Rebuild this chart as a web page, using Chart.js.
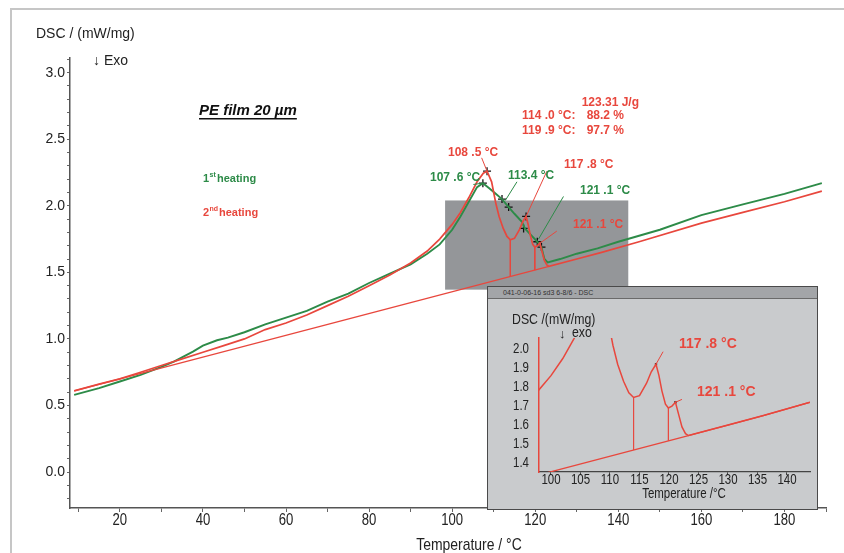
<!DOCTYPE html>
<html>
<head>
<meta charset="utf-8">
<script src="https://cdn.jsdelivr.net/npm/chart.js@4.4.1/dist/chart.umd.min.js"></script>
<style>
  html, body { margin: 0; padding: 0; background: #fff; }
  #wrap { position: relative; width: 844px; height: 553px; overflow: hidden; }
  #main { position: absolute; left: 0; top: 0; }
  #panel { position: absolute; left: 487px; top: 286px; width: 331px; height: 224px; background: #c9cbcd; border: 1px solid #4a4a4a; box-sizing: border-box; }
  #panelBar { height: 11px; background: #a3a5a8; border-bottom: 1px solid #6a6a6a; font: 7px "Liberation Sans", Arial, sans-serif; color: #333; line-height: 11px; padding-left: 15px; }
  #inset { position: absolute; left: 0; top: 12px; }
</style>
</head>
<body>
<div id="wrap">
  <canvas id="main" width="844" height="553"></canvas>
  <div id="panel">
    <div id="panelBar">041-0-06-16 sd3 6-8/6 - DSC</div>
    <canvas id="inset" width="329" height="210"></canvas>
  </div>
</div>
<script>
const RED = '#e8473d';
const GREEN = '#2d8b48';

// 1st heating (green), temperature in °C and DSC in mW/mg
const heat1T = [9, 15, 20, 25, 30, 33, 37.6, 40, 43.4, 46, 50, 55, 60, 65, 70, 75, 80, 85, 90, 94, 97, 100, 102, 104, 106, 107.4, 109, 110.5, 112, 113.6, 115, 116.8, 117.5, 119, 120.5, 121.5, 122.2, 123, 126, 130, 135, 140, 150, 160, 170, 180, 189];
const heat1V = [0.58, 0.63, 0.68, 0.73, 0.79, 0.83, 0.905, 0.95, 0.99, 1.01, 1.05, 1.11, 1.16, 1.21, 1.28, 1.34, 1.42, 1.49, 1.56, 1.64, 1.71, 1.82, 1.92, 2.03, 2.14, 2.17, 2.13, 2.09, 2.05, 1.99, 1.94, 1.88, 1.83, 1.78, 1.73, 1.69, 1.60, 1.575, 1.60, 1.64, 1.68, 1.73, 1.82, 1.93, 2.01, 2.09, 2.17];

// 2nd heating (red)
const heat2T = [9, 15, 20, 25, 30, 35, 40, 45, 50, 55, 60, 65, 70, 75, 80, 85, 90, 94, 97, 100, 102, 104, 106, 107.5, 108.4, 109.5, 110.5, 111.3, 112.3, 113.2, 114, 115, 116.2, 117, 117.8, 118.3, 118.8, 119.4, 119.9, 120.5, 121.1, 121.6, 122.2, 122.8, 123.3, 130, 136, 145, 160, 170, 180, 189];
const heat2V = [0.61, 0.66, 0.70, 0.75, 0.80, 0.85, 0.90, 0.95, 1.00, 1.07, 1.12, 1.18, 1.25, 1.32, 1.40, 1.48, 1.57, 1.66, 1.75, 1.86, 1.95, 2.06, 2.18, 2.245, 2.26, 2.18, 2.02, 1.92, 1.83, 1.77, 1.745, 1.755, 1.82, 1.88, 1.92, 1.86, 1.78, 1.71, 1.69, 1.70, 1.72, 1.66, 1.59, 1.555, 1.545, 1.60, 1.65, 1.73, 1.87, 1.95, 2.03, 2.11];

// integration baseline under the 2nd heating peak
const baseT = [9, 123.3];
const baseV = [0.61, 1.545];

// partial area limits (114.0 °C: 88.2 %, 119.9 °C: 97.7 %)
const splitT = [114.0, 119.9];
const splitTop = [1.745, 1.69];
const splitBot = [1.469, 1.517];

// evaluated points (+)
const mark1T = [107.4, 112.0, 113.6, 117.2, 120.5, 121.5];
const mark1V = [2.17, 2.05, 1.99, 1.83, 1.73, 1.69];
const mark2T = [108.4, 117.8];
const mark2V = [2.26, 1.92];
const insetMarkT = [117.8, 121.1];
const insetMarkV = [1.92, 1.72];

// zoom window shown in the inset
const zoomT = [98.3, 142.4];
const zoomV = [1.37, 2.04];

// leader lines from the labels to the evaluated points
const leadFromT = [107.1, 105.1, 115.6, 122.8, 126.8, 125.2];
const leadFromV = [2.36, 2.16, 2.18, 2.26, 2.07, 1.81];
const leadToT = [108.4, 107.4, 112.8, 117.8, 120.8, 121.2];
const leadToV = [2.26, 2.17, 2.04, 1.92, 1.75, 1.72];
const leadColor = [RED, GREEN, GREEN, RED, GREEN, RED];
const insetLeadFromT = [117.8, 121.1];
const insetLeadFromV = [1.92, 1.72];
const insetLeadToT = [119.0, 122.2];
const insetLeadToV = [1.986, 1.735];

// tick labels
const mainXLabels = [20, 40, 60, 80, 100, 120, 140, 160, 180];
const insetXLabels = [100, 105, 110, 115, 120, 125, 130, 135, 140];
const insetYLabels = [1.4, 1.5, 1.6, 1.7, 1.8, 1.9, 2.0];

const SANS = '"Liberation Sans", Arial, sans-serif';
Chart.defaults.font.family = SANS;

const pts = (xs, ys) => xs.map((x, i) => ({ x: x, y: ys[i] }));
const lineSet = (xs, ys, color, width) => ({
    data: pts(xs, ys), borderColor: color, borderWidth: width,
    pointRadius: 0, tension: 0, fill: false
});
const crossSet = (xs, ys) => ({
    data: pts(xs, ys), showLine: false, pointStyle: 'cross',
    pointRadius: 4, borderColor: '#111', borderWidth: 1.3
});

function put(ctx, s, x, y, font, color, align) {
    ctx.font = font;
    ctx.fillStyle = color;
    ctx.textAlign = align || 'left';
    ctx.textBaseline = 'middle';
    ctx.fillText(s, x, y);
    return ctx.measureText(s).width;
}

// condensed text, the original figure uses a narrow face
function putNarrow(ctx, s, x, y, size, color, align) {
    ctx.save();
    ctx.translate(x, y);
    ctx.scale(0.82, 1);
    put(ctx, s, 0, 0, size + 'px ' + SANS, color, align);
    ctx.restore();
}

function drawLeaders(chart, fT, fV, tT, tV, colors) {
    const { ctx, scales: { x, y } } = chart;
    ctx.save();
    ctx.lineWidth = 1;
    fT.forEach((t, i) => {
        ctx.strokeStyle = colors[i];
        ctx.beginPath();
        ctx.moveTo(x.getPixelForValue(t), y.getPixelForValue(fV[i]));
        ctx.lineTo(x.getPixelForValue(tT[i]), y.getPixelForValue(tV[i]));
        ctx.stroke();
    });
    ctx.restore();
}

const mainDecor = {
    id: 'mainDecor',
    beforeDraw(chart) {
        const ctx = chart.ctx;
        ctx.save();
        ctx.fillStyle = '#fff';
        ctx.fillRect(0, 0, chart.width, chart.height);
        ctx.strokeStyle = '#c6c6c6';
        ctx.lineWidth = 2;
        ctx.strokeRect(11, 9, 900, 700);
        ctx.restore();
    },
    beforeDatasetsDraw(chart) {
        const { ctx, scales: { x, y } } = chart;
        const l = x.getPixelForValue(zoomT[0]), r = x.getPixelForValue(zoomT[1]);
        const t = y.getPixelForValue(zoomV[1]), b = y.getPixelForValue(zoomV[0]);
        ctx.save();
        ctx.fillStyle = '#949699';
        ctx.fillRect(l, t, r - l, b - t);
        ctx.restore();
    },
    afterDatasetsDraw(chart) {
        drawLeaders(chart, leadFromT, leadFromV, leadToT, leadToV, leadColor);
    },
    afterDraw(chart) {
        const ctx = chart.ctx;
        const x = chart.scales.x;
        ctx.save();
        mainXLabels.forEach((v) => putNarrow(ctx, String(v), x.getPixelForValue(v), 521, 16, '#222', 'center'));
        putNarrow(ctx, 'Temperature / \u00b0C', 469, 545, 17, '#222', 'center');
        put(ctx, 'DSC / (mW/mg)', 36, 34, '14px ' + SANS, '#222');
        put(ctx, '\u2193 Exo', 93, 61, '14px ' + SANS, '#222');
        const w = put(ctx, 'PE film 20 \u00b5m', 199, 111, 'italic bold 15px ' + SANS, '#111');
        ctx.fillStyle = '#111';
        ctx.fillRect(199, 118, w, 1.5);

        const b11 = 'bold 11px ' + SANS, b7 = 'bold 7px ' + SANS;
        put(ctx, '1', 203, 179, b11, GREEN);
        put(ctx, 'st', 209.5, 175, b7, GREEN);
        put(ctx, 'heating', 217, 179, b11, GREEN);
        put(ctx, '2', 203, 213, b11, RED);
        put(ctx, 'nd', 209.5, 209, b7, RED);
        put(ctx, 'heating', 219, 213, b11, RED);

        const b12 = 'bold 12px ' + SANS;
        put(ctx, '123.31 J/g', 639, 103, b12, RED, 'right');
        put(ctx, '114 .0 \u00b0C:', 522, 116, b12, RED);
        put(ctx, '88.2 %', 624, 116, b12, RED, 'right');
        put(ctx, '119 .9 \u00b0C:', 522, 131, b12, RED);
        put(ctx, '97.7 %', 624, 131, b12, RED, 'right');
        put(ctx, '108 .5 \u00b0C', 448, 153, b12, RED);
        put(ctx, '107 .6 \u00b0C', 430, 178, b12, GREEN);
        put(ctx, '113.4 \u00b0C', 508, 176, b12, GREEN);
        put(ctx, '117 .8 \u00b0C', 564, 165, b12, RED);
        put(ctx, '121 .1 \u00b0C', 580, 191, b12, GREEN);
        put(ctx, '121 .1 \u00b0C', 573, 225, b12, RED);
        ctx.restore();
    }
};

new Chart(document.getElementById('main'), {
    type: 'line',
    data: {
        datasets: [
            lineSet(baseT, baseV, RED, 1.3),
            lineSet(heat2T, heat2V, RED, 1.7),
            lineSet(heat1T, heat1V, GREEN, 1.9),
            ...splitT.map((t, i) => lineSet([t, t], [splitTop[i], splitBot[i]], RED, 1)),
            crossSet(mark1T, mark1V),
            crossSet(mark2T, mark2V)
        ]
    },
    options: {
        responsive: false,
        animation: false,
        layout: { padding: { top: 58, right: 18, left: 0, bottom: 0 } },
        plugins: { legend: { display: false }, tooltip: { enabled: false } },
        scales: {
            x: {
                type: 'linear', min: 8, max: 190,
                afterBuildTicks: (s) => { s.ticks = []; for (let v = 10; v <= 190; v += 10) s.ticks.push({ value: v }); },
                afterFit: (s) => { s.height = 45; },
                ticks: { autoSkip: false, maxRotation: 0, callback: () => '' },
                grid: { drawOnChartArea: false, drawTicks: true, tickLength: 4, color: '#666' },
                border: { color: '#555', width: 1.5 }
            },
            y: {
                min: -0.27, max: 3.11,
                afterBuildTicks: (s) => { s.ticks = []; for (let k = -2; k <= 31; k++) s.ticks.push({ value: k / 10 }); },
                afterFit: (s) => { s.width = 70; },
                ticks: {
                    autoSkip: false, padding: 2, color: '#222',
                    font: { family: SANS, size: 14 },
                    callback: (v) => { const k = Math.round(v * 10); return k % 5 === 0 ? (k / 10).toFixed(1) : ''; }
                },
                grid: { drawOnChartArea: false, drawTicks: true, tickLength: 3, color: '#666' },
                border: { color: '#555', width: 1.5 }
            }
        }
    },
    plugins: [mainDecor]
});

const insetDecor = {
    id: 'insetDecor',
    afterDatasetsDraw(chart) {
        drawLeaders(chart, insetLeadFromT, insetLeadFromV, insetLeadToT, insetLeadToV, [RED, RED]);
    },
    afterDraw(chart) {
        const ctx = chart.ctx;
        const { x, y } = chart.scales;
        ctx.save();
        insetXLabels.forEach((v) => putNarrow(ctx, String(v), x.getPixelForValue(v), 181, 14, '#222', 'center'));
        insetYLabels.forEach((v) => putNarrow(ctx, v.toFixed(1), 41, y.getPixelForValue(v), 14, '#222', 'right'));
        putNarrow(ctx, 'DSC /(mW/mg)', 24, 21, 15, '#222');
        put(ctx, '\u2193', 71, 35, '13px ' + SANS, '#222');
        putNarrow(ctx, 'exo', 84, 34, 15, '#222');
        putNarrow(ctx, 'Temperature /\u00b0C', 196, 195, 14, '#222', 'center');
        const b = 'bold 14px ' + SANS;
        put(ctx, '117 .8 \u00b0C', 191, 45, b, RED);
        put(ctx, '121 .1 \u00b0C', 209, 93, b, RED);
        ctx.restore();
    }
};

new Chart(document.getElementById('inset'), {
    type: 'line',
    data: {
        datasets: [
            lineSet(baseT.concat(heat2T.slice(heat2T.indexOf(123.3) + 1)), baseV.concat(heat2V.slice(heat2T.indexOf(123.3) + 1)), RED, 1.3),
            lineSet(heat2T, heat2V, RED, 1.5),
            ...splitT.map((t, i) => lineSet([t, t], [splitTop[i], splitBot[i]], RED, 0.8)),
            {
                data: pts(insetMarkT, insetMarkV), showLine: false, pointStyle: 'rect',
                pointRadius: 1.6, backgroundColor: '#111', borderColor: '#111', borderWidth: 0
            }
        ]
    },
    options: {
        responsive: false,
        animation: false,
        layout: { padding: { top: 39, right: 7, left: 0, bottom: 0 } },
        plugins: { legend: { display: false }, tooltip: { enabled: false } },
        scales: {
            x: {
                type: 'linear', min: 97.97, max: 143.9,
                afterBuildTicks: (s) => { s.ticks = []; for (let v = 100; v <= 140; v += 5) s.ticks.push({ value: v }); },
                afterFit: (s) => { s.height = 37; },
                ticks: { autoSkip: false, maxRotation: 0, callback: () => '' },
                grid: { drawOnChartArea: false, drawTicks: true, tickLength: 3, color: '#444' },
                border: { color: '#444', width: 1.3 }
            },
            y: {
                min: 1.353, max: 2.058,
                afterFit: (s) => { s.width = 51; },
                ticks: { display: false },
                grid: { display: false },
                border: { display: true, color: RED, width: 1.5 }
            }
        }
    },
    plugins: [insetDecor]
});
</script>
</body>
</html>
